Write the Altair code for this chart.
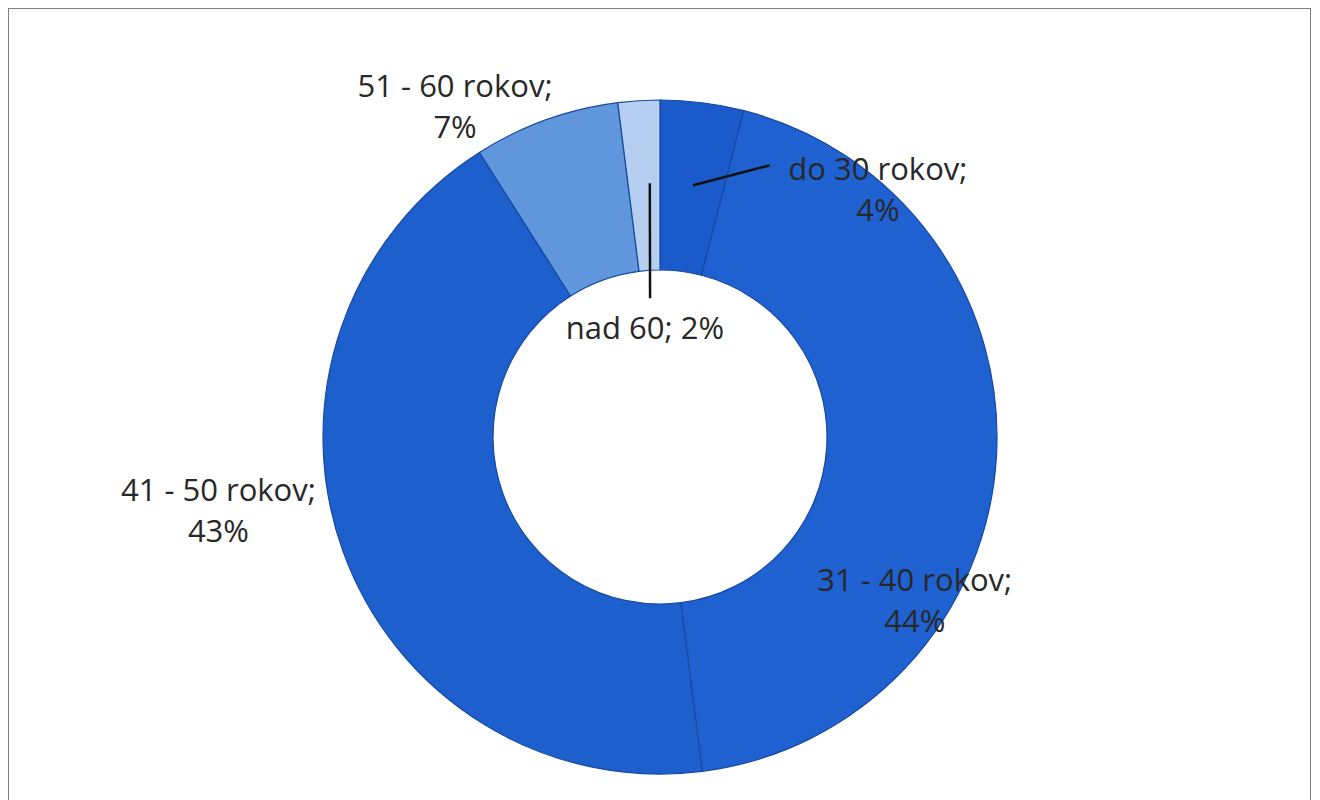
import math
import altair as alt
import pandas as pd

# data
categories = ["do 30 rokov", "31 - 40 rokov", "41 - 50 rokov", "51 - 60 rokov", "nad 60"]
shares = [4, 44, 43, 7, 2]
labels = ["do 30 rokov;\n4%", "31 - 40 rokov;\n44%", "41 - 50 rokov;\n43%", "51 - 60 rokov;\n7%", "nad 60; 2%"]
colors = ["#1a5acb", "#1f61d0", "#1d5fcc", "#5f96dc", "#b6cff0"]

# layout
CX, CY = 652, 429
R_OUT, R_IN = 337, 167
label_pos = {  # (angle deg clockwise from 12 o'clock, radius px)
    "do 30 rokov": (39.3, 344),
    "31 - 40 rokov": (119.6, 293),
    "41 - 50 rokov": (262.9, 445),
    "51 - 60 rokov": (329.6, 405),
    "nad 60": (352.0, 108),
}
leaders = {  # start (deg, r), end (deg, r)
    "do 30 rokov": ((7.5, 254), (22.0, 293)),
    "nad 60": ((357.7, 254), (355.9, 139)),
}

df = pd.DataFrame({"cat": categories, "value": shares, "idx": range(len(categories))})

lab = pd.DataFrame({
    "cat": categories,
    "text": [l.split("\n") for l in labels],
    "la": [math.radians(label_pos[c][0]) for c in categories],
    "lr": [label_pos[c][1] for c in categories],
})

def polar(a, r):
    t = math.radians(a)
    return CX + r * math.sin(t), CY - r * math.cos(t)

rows = []
for c, (s, e) in leaders.items():
    x1, y1 = polar(*s)
    x2, y2 = polar(*e)
    rows.append({"cat": c, "x": x1, "y": y1, "x2": x2, "y2": y2})
ld = pd.DataFrame(rows)

arcs = alt.Chart(df).mark_arc(
    outerRadius=R_OUT, innerRadius=R_IN, stroke="#174a9e", strokeWidth=1.2
).encode(
    theta=alt.Theta("value:Q", stack=True),
    order=alt.Order("idx:Q"),
    color=alt.Color("cat:N", scale=alt.Scale(domain=categories, range=colors), legend=None),
    x=alt.value(CX),
    y=alt.value(CY),
)

lines = alt.Chart(ld).mark_rule(color="#111111", strokeWidth=2.5).encode(
    x=alt.X("x:Q", scale=None),
    y=alt.Y("y:Q", scale=None),
    x2="x2:Q",
    y2="y2:Q",
)

texts = alt.Chart(lab).mark_text(
    font="Open Sans", fontSize=31, color="#282828", align="center", baseline="middle", lineHeight=41
).encode(
    text="text",
    theta=alt.Theta("la:Q", scale=None),
    radius=alt.Radius("lr:Q", scale=None),
    x=alt.value(CX),
    y=alt.value(CY),
)

chart = alt.layer(arcs, lines, texts).properties(
    width=1303, height=800, padding=0, background="white"
).configure_view(stroke="#7f7f7f", strokeWidth=2)

chart.save("out.html", embed_options={"renderer": "svg", "actions": False})
